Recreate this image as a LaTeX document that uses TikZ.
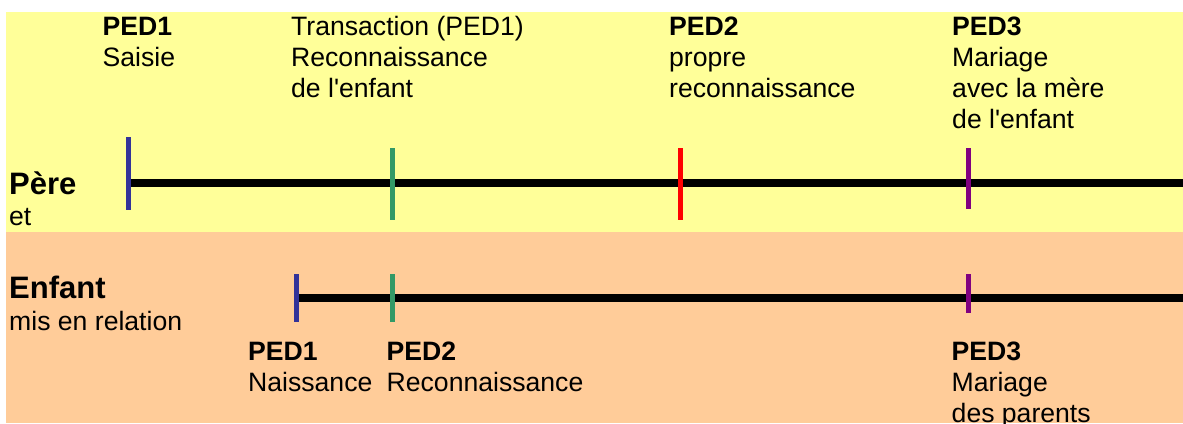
\documentclass[tikz,border=0pt]{standalone}
\usepackage{fontspec}
\setmainfont{Liberation Sans}
\definecolor{yel}{HTML}{FFFF99}
\definecolor{pch}{HTML}{FFCC99}
\definecolor{tblue}{HTML}{333399}
\definecolor{tgreen}{HTML}{339966}
\definecolor{tred}{HTML}{FF0000}
\definecolor{tpurple}{HTML}{800080}
\begin{document}
\begin{tikzpicture}[x=1pt,y=-1pt,
  txt/.style={anchor=base west,inner sep=0pt,font=\fontsize{26.6}{31}\selectfont},
  hd/.style={anchor=base west,inner sep=0pt,font=\fontsize{26.6}{31}\selectfont\bfseries},
  big/.style={anchor=base west,inner sep=0pt,font=\fontsize{31}{36}\selectfont\bfseries},
  tline/.style={line width=7.8pt,black},
  tickmark/.style={line width=5pt}]
\useasboundingbox (0,0) rectangle (1183,423);
\fill[yel] (5.5,12) rectangle (1183,232);
\fill[pch] (5.5,232) rectangle (1183,423);
% Pere timeline
\coordinate (pS) at (128.5,183);
\coordinate (pE) at (1183,183);
\draw[tline] (pS) -- (pE);
\coordinate (pb1) at (128.5,137.3); \coordinate (pb2) at (128.5,210);
\coordinate (pg1) at (392.7,148.3); \coordinate (pg2) at (392.7,220);
\coordinate (pr1) at (680.7,148.3); \coordinate (pr2) at (680.7,220);
\coordinate (pp1) at (968.7,148.3); \coordinate (pp2) at (968.7,209);
\draw[tickmark,tblue] (pb1) -- (pb2);
\draw[tickmark,tgreen] (pg1) -- (pg2);
\draw[tickmark,tred] (pr1) -- (pr2);
\draw[tickmark,tpurple] (pp1) -- (pp2);
% Enfant timeline
\coordinate (eS) at (296.7,298.3);
\coordinate (eE) at (1183,298.3);
\draw[tline] (eS) -- (eE);
\coordinate (eb1) at (296.7,274.3); \coordinate (eb2) at (296.7,322.3);
\coordinate (eg1) at (392.7,274.3); \coordinate (eg2) at (392.7,322.3);
\coordinate (ep1) at (968.7,274.3); \coordinate (ep2) at (968.7,313);
\draw[tickmark,tblue] (eb1) -- (eb2);
\draw[tickmark,tgreen] (eg1) -- (eg2);
\draw[tickmark,tpurple] (ep1) -- (ep2);
% left labels
\node[big] (pere) at (9,194.3) {Père};
\node[txt] (et) at (9,225.3) {et};
\node[big] (enfant) at (9,298.3) {Enfant};
\node[txt] (mis) at (9,330) {mis en relation};
% top labels
\node[hd] (a1) at (102.5,35.7) {PED1};
\node[txt] (a2) at (102.5,66.7) {Saisie};
\node[txt] (b1) at (291,35.7) {Transaction (PED1)};
\node[txt] (b2) at (291,66.7) {Reconnaissance};
\node[txt] (b3) at (291,97.7) {de l\textquotesingle enfant};
\node[hd] (c1) at (669,35.7) {PED2};
\node[txt] (c2) at (669,66.7) {propre};
\node[txt] (c3) at (669,97.7) {reconnaissance};
\node[hd] (d1) at (952,35.7) {PED3};
\node[txt] (d2) at (952,66.7) {Mariage};
\node[txt] (d3) at (952,97.7) {avec la mère};
\node[txt] (d4) at (952,128.5) {de l\textquotesingle enfant};
% bottom labels
\node[hd] (f1) at (248,360.5) {PED1};
\node[txt] (f2) at (248,391.7) {Naissance};
\node[hd] (g1) at (386.5,360.5) {PED2};
\node[txt] (g2) at (386.5,391.7) {Reconnaissance};
\node[hd] (h1) at (951.5,360.5) {PED3};
\node[txt] (h2) at (951.5,391.7) {Mariage};
\node[txt] (h3) at (951.5,422) {des parents};
\end{tikzpicture}
\end{document}
